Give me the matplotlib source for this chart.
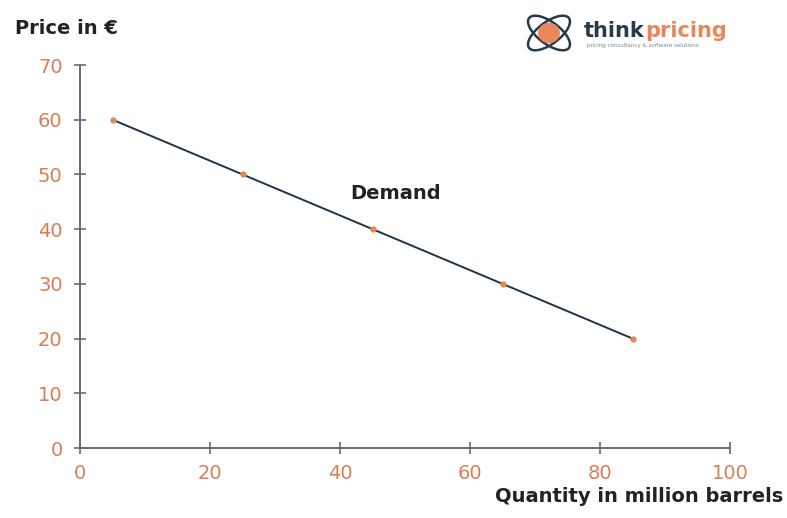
import matplotlib
matplotlib.use("Agg")
import matplotlib.pyplot as plt
from matplotlib.patches import Ellipse, Circle

# demand schedule
quantity = [5, 25, 45, 65, 85]
price = [60, 50, 40, 30, 20]
x_ticks = [0, 20, 40, 60, 80, 100]
y_ticks = [0, 10, 20, 30, 40, 50, 60, 70]

axis_col = "#5f6e7e"
tick_col = "#d97e56"
line_col = "#1f3447"

plt.rcParams['font.family'] = ['DejaVu Sans']

fig = plt.figure(figsize=(7.87, 5.18), dpi=100)
ax = fig.add_axes([0.1017, 0.1351, 0.8260, 0.7394])

ax.plot(quantity, price, color=line_col, lw=1.4, zorder=2)
ax.plot(quantity, price, 'o', color="#e08a55", ms=3.5, zorder=3)

ax.set_xlim(0, 100)
ax.set_ylim(0, 70)
ax.set_xticks(x_ticks)
ax.set_yticks(y_ticks)
for side in ["top", "right"]:
    ax.spines[side].set_visible(False)
for side in ["left", "bottom"]:
    ax.spines[side].set_color(axis_col)
    ax.spines[side].set_linewidth(1.4)
ax.tick_params(direction="inout", length=9, width=1.2, color=axis_col,
               labelcolor=tick_col, labelsize=14, pad=7)
ax.tick_params(axis="y", pad=8)
ax.patch.set_visible(False)

ax.text(48.5, 46.5, "Demand", fontsize=14, fontweight="bold",
        ha="center", va="center", color="#222222")

fig.text(15 / 787, 1 - 29 / 518, "Price in €", fontsize=14, fontweight="bold",
         ha="left", va="center", color="#222222")
fig.text(783 / 787, 1 - 497 / 518, "Quantity in million barrels", fontsize=14,
         fontweight="bold", ha="right", va="center", color="#222222")

# logo in the upper right corner
lax = fig.add_axes([522 / 787, 1 - 58 / 518, 54 / 787, 50 / 518])
lax.set_xlim(-1, 1)
lax.set_ylim(-1, 1)
lax.axis("off")
lax.add_patch(Ellipse((0, 0), 1.9, 0.85, angle=40, fill=False, ec="#2a3a4a", lw=1.8))
lax.add_patch(Ellipse((0, 0), 1.9, 0.85, angle=-40, fill=False, ec="#2a3a4a", lw=1.8))
lax.add_patch(Circle((0, 0), 0.38, color="#e9875a"))
fig.text(584 / 787, 1 - 31 / 518, "think", fontsize=15, fontweight="bold",
         color="#2a3a4a", ha="left", va="center")
fig.text(645 / 787, 1 - 31 / 518, "pricing", fontsize=15, fontweight="bold",
         color="#e9875a", ha="left", va="center")
fig.text(587 / 787, 1 - 46 / 518, "pricing consultancy & software solutions",
         fontsize=4, color="#7a8590", ha="left", va="center")

fig.savefig("out.png", dpi=100)
